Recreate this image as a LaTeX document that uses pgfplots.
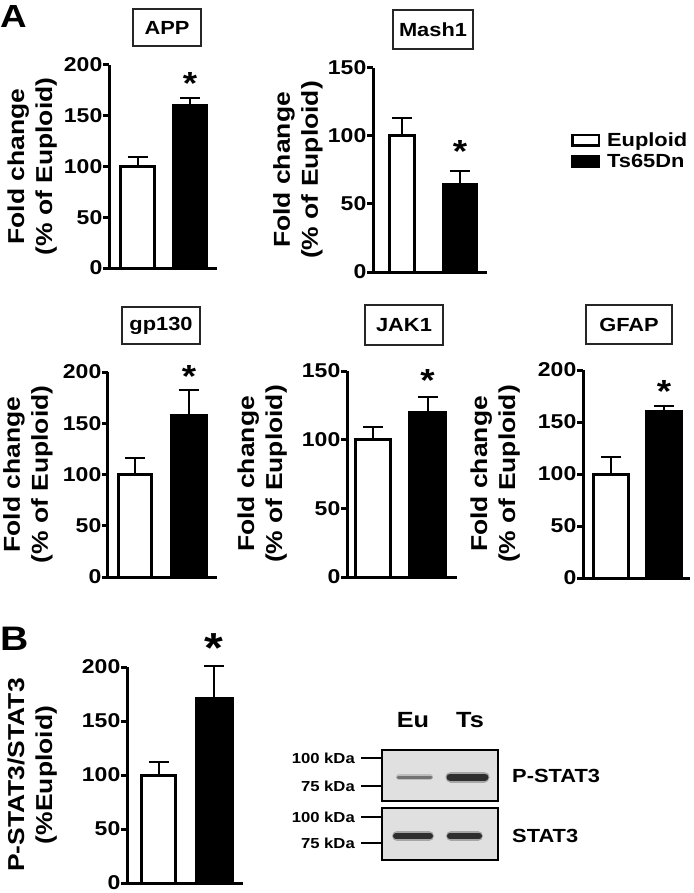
\documentclass[border=0pt]{standalone}
\usepackage{fontspec}
\setmainfont{Liberation Sans}[FakeStretch=1.15]
\usepackage{pgfplots}
\pgfplotsset{compat=1.18}

\newcommand{\fs}[2]{\bfseries\fontsize{#1}{#2}\selectfont}

\pgfplotsset{
  panel/.style={
    scale only axis, anchor=south west, clip=false,
    axis lines=left, axis line style={-, line width=3pt},
    ymin=0, xtick=\empty,
    tick align=outside, major tick length=6pt,
    tick style={line width=3pt, black},
    yticklabel style={font=\fs{20}{20}, inner sep=0.5pt},
    /pgf/number format/assume math mode=true,
    ylabel style={font=\fs{23}{28}, align=center, anchor=south, inner sep=0pt},
    ybar, bar shift=0pt,
    error bars/y dir=plus, error bars/y explicit,
    error bars/error bar style={line width=2pt, black},
    error bars/error mark options={rotate=90, line width=2pt, mark size=10pt, black},
  },
  eu/.style={fill=white, draw=black, line width=3pt},
  ts/.style={fill=black, draw=black, line width=3pt},
}
\tikzset{
  ast/.style={font=\fs{32}{32}, anchor=base, inner sep=0pt},
  ttl/.style={draw=black!85, line width=1.2pt, font=\fs{19}{19}, minimum height=37pt, inner sep=0pt},
}

\begin{document}
\begin{tikzpicture}
\useasboundingbox (0,0) rectangle (693pt,-893pt);

% ---- A: APP
\begin{axis}[panel, at={(109pt,-268pt)}, width=108pt, height=203pt,
  xmin=0.457, xmax=2.514, ymax=200, ytick={0,50,100,150,200},
  ylabel={Fold change\\(\% of Euploid)},
  ylabel style={at={(axis description cs:-0.481,0.5)}}]
\addplot[eu, bar width=34pt] coordinates {(1,100) +- (0,9)};
\addplot[ts, bar width=33pt] coordinates {(2,160) +- (0,7)};
\node[ast, yshift=4pt] at (axis cs:2,167) {*};
\end{axis}

% ---- A: Mash1 (carries the legend)
\begin{axis}[panel, at={(373pt,-272pt)}, width=114pt, height=204pt,
  xmin=0.5, xmax=2.466, ymax=150, ytick={0,50,100,150},
  ylabel={Fold change\\(\% of Euploid)},
  ylabel style={at={(axis description cs:-0.439,0.5)}},
  legend style={at={(axis description cs:1.71,0.694)}, anchor=north west,
    draw=none, fill=none, font=\fs{19}{19}, column sep=7pt, row sep=6pt,
    nodes={inner sep=0pt}},
  legend cell align=left,
  legend image code/.code={\draw[#1, line width=2.5pt] (0pt,-5.25pt) rectangle (26.5pt,5.25pt);}]
\addplot[eu, bar width=25pt] coordinates {(1,100) +- (0,13)};
\addplot[ts, bar width=33pt] coordinates {(2,64) +- (0,10)};
\node[ast, yshift=8.6pt] at (axis cs:2,74) {*};
\legend{Euploid, Ts65Dn}
\end{axis}

% ---- A: gp130
\begin{axis}[panel, at={(108pt,-577pt)}, width=109pt, height=205pt,
  xmin=0.5, xmax=2.519, ymax=200, ytick={0,50,100,150,200},
  ylabel={Fold change\\(\% of Euploid)},
  ylabel style={at={(axis description cs:-0.505,0.5)}}]
\addplot[eu, bar width=33pt] coordinates {(1,100) +- (0,16)};
\addplot[ts, bar width=35pt] coordinates {(2,158) +- (0,24)};
\node[ast, yshift=2.6pt] at (axis cs:2,182) {*};
\end{axis}

% ---- A: JAK1
\begin{axis}[panel, at={(347pt,-577pt)}, width=110pt, height=206pt,
  xmin=0.523, xmax=2.541, ymax=150, ytick={0,50,100,150},
  ylabel={Fold change\\(\% of Euploid)},
  ylabel style={at={(axis description cs:-0.545,0.5)}}]
\addplot[eu, bar width=35pt] coordinates {(1,100) +- (0,9)};
\addplot[ts, bar width=36pt] coordinates {(2,120) +- (0,11)};
\node[ast, yshift=6pt] at (axis cs:2,131) {*};
\end{axis}

% ---- A: GFAP
\begin{axis}[panel, at={(583pt,-578pt)}, width=107pt, height=208pt,
  xmin=0.472, xmax=2.491, ymax=200, ytick={0,50,100,150,200},
  ylabel={Fold change\\(\% of Euploid)},
  ylabel style={at={(axis description cs:-0.589,0.5)}}]
\addplot[eu, bar width=35pt] coordinates {(1,100) +- (0,16)};
\addplot[ts, bar width=35pt] coordinates {(2,160) +- (0,5)};
\node[ast, yshift=4pt] at (axis cs:2,165) {*};
\end{axis}

% ---- B: P-STAT3/STAT3
\begin{axis}[panel, at={(127pt,-883pt)}, width=116pt, height=216pt,
  xmin=0.432, xmax=2.522, ymax=200, ytick={0,50,100,150,200},
  ylabel={P-STAT3/STAT3\\(\%Euploid)},
  ylabel style={at={(axis description cs:-0.603,0.5)}}]
\addplot[eu, bar width=34pt] coordinates {(1,100) +- (0,12)};
\addplot[ts, bar width=36pt] coordinates {(2,171) +- (0,30)};
\node[ast, font=\fs{42}{42}, yshift=3pt] at (axis cs:2,201) {*};
\end{axis}

% ---- panel letters and gene titles
\node[font=\fs{32}{32}, anchor=base west, inner sep=0pt] at (0pt,-28pt) {A};
\node[font=\fs{34}{34}, anchor=base west, inner sep=0pt] at (0pt,-650pt) {B};
\node[ttl, minimum width=68pt] at (167pt,-27.5pt) {APP};
\node[ttl, minimum width=80pt, minimum height=39pt] at (433pt,-29.5pt) {Mash1};
\node[ttl, minimum width=78pt] at (161pt,-325.5pt) {gp130};
\node[ttl, minimum width=78pt, minimum height=40pt] at (404pt,-325pt) {JAK1};
\node[ttl, minimum width=86pt, minimum height=39pt] at (629pt,-324.5pt) {GFAP};

% ---- B: western blot
\node[font=\fs{22}{22}, anchor=base] at (413pt,-727pt) {Eu};
\node[font=\fs{22}{22}, anchor=base] at (470pt,-727pt) {Ts};
\fill[black!12] (382pt,-750pt) rectangle (498pt,-801pt);
\fill[black!12] (382pt,-808pt) rectangle (498pt,-860pt);
% bands
\draw[line width=6pt, line cap=round, black!26] (399pt,-777pt) -- (430pt,-777pt);
\draw[line width=3pt, line cap=round, black!55] (398pt,-777pt) -- (431pt,-777pt);
\draw[line width=11pt, line cap=round, black!35] (451pt,-777pt) -- (484pt,-777pt);
\draw[line width=7pt, line cap=round, black!82] (450pt,-777pt) -- (485pt,-777pt);
\draw[line width=10pt, line cap=round, black!35] (397pt,-836pt) -- (429pt,-836pt);
\draw[line width=6pt, line cap=round, black!82] (396pt,-836pt) -- (430pt,-836pt);
\draw[line width=10pt, line cap=round, black!35] (451pt,-836pt) -- (478pt,-836pt);
\draw[line width=6pt, line cap=round, black!82] (450pt,-836pt) -- (479pt,-836pt);
\draw[line width=1.6pt] (382pt,-750pt) rectangle (498pt,-801pt);
\draw[line width=1.6pt] (382pt,-808pt) rectangle (498pt,-860pt);
% size markers
\draw[line width=2pt] (361pt,-758pt) -- (382pt,-758pt);
\draw[line width=2pt] (361pt,-786pt) -- (382pt,-786pt);
\draw[line width=2pt] (361pt,-817pt) -- (382pt,-817pt);
\draw[line width=2pt] (361pt,-843pt) -- (382pt,-843pt);
\node[font=\fs{14.5}{14.5}, anchor=east, inner sep=0pt] at (355pt,-758pt) {100 kDa};
\node[font=\fs{14.5}{14.5}, anchor=east, inner sep=0pt] at (355pt,-786pt) {75 kDa};
\node[font=\fs{14.5}{14.5}, anchor=east, inner sep=0pt] at (355pt,-817pt) {100 kDa};
\node[font=\fs{14.5}{14.5}, anchor=east, inner sep=0pt] at (355pt,-843pt) {75 kDa};
\node[font=\fs{19}{19}, anchor=west, inner sep=0pt] at (512pt,-776pt) {P-STAT3};
\node[font=\fs{19}{19}, anchor=west, inner sep=0pt] at (512pt,-836pt) {STAT3};
\end{tikzpicture}
\end{document}
